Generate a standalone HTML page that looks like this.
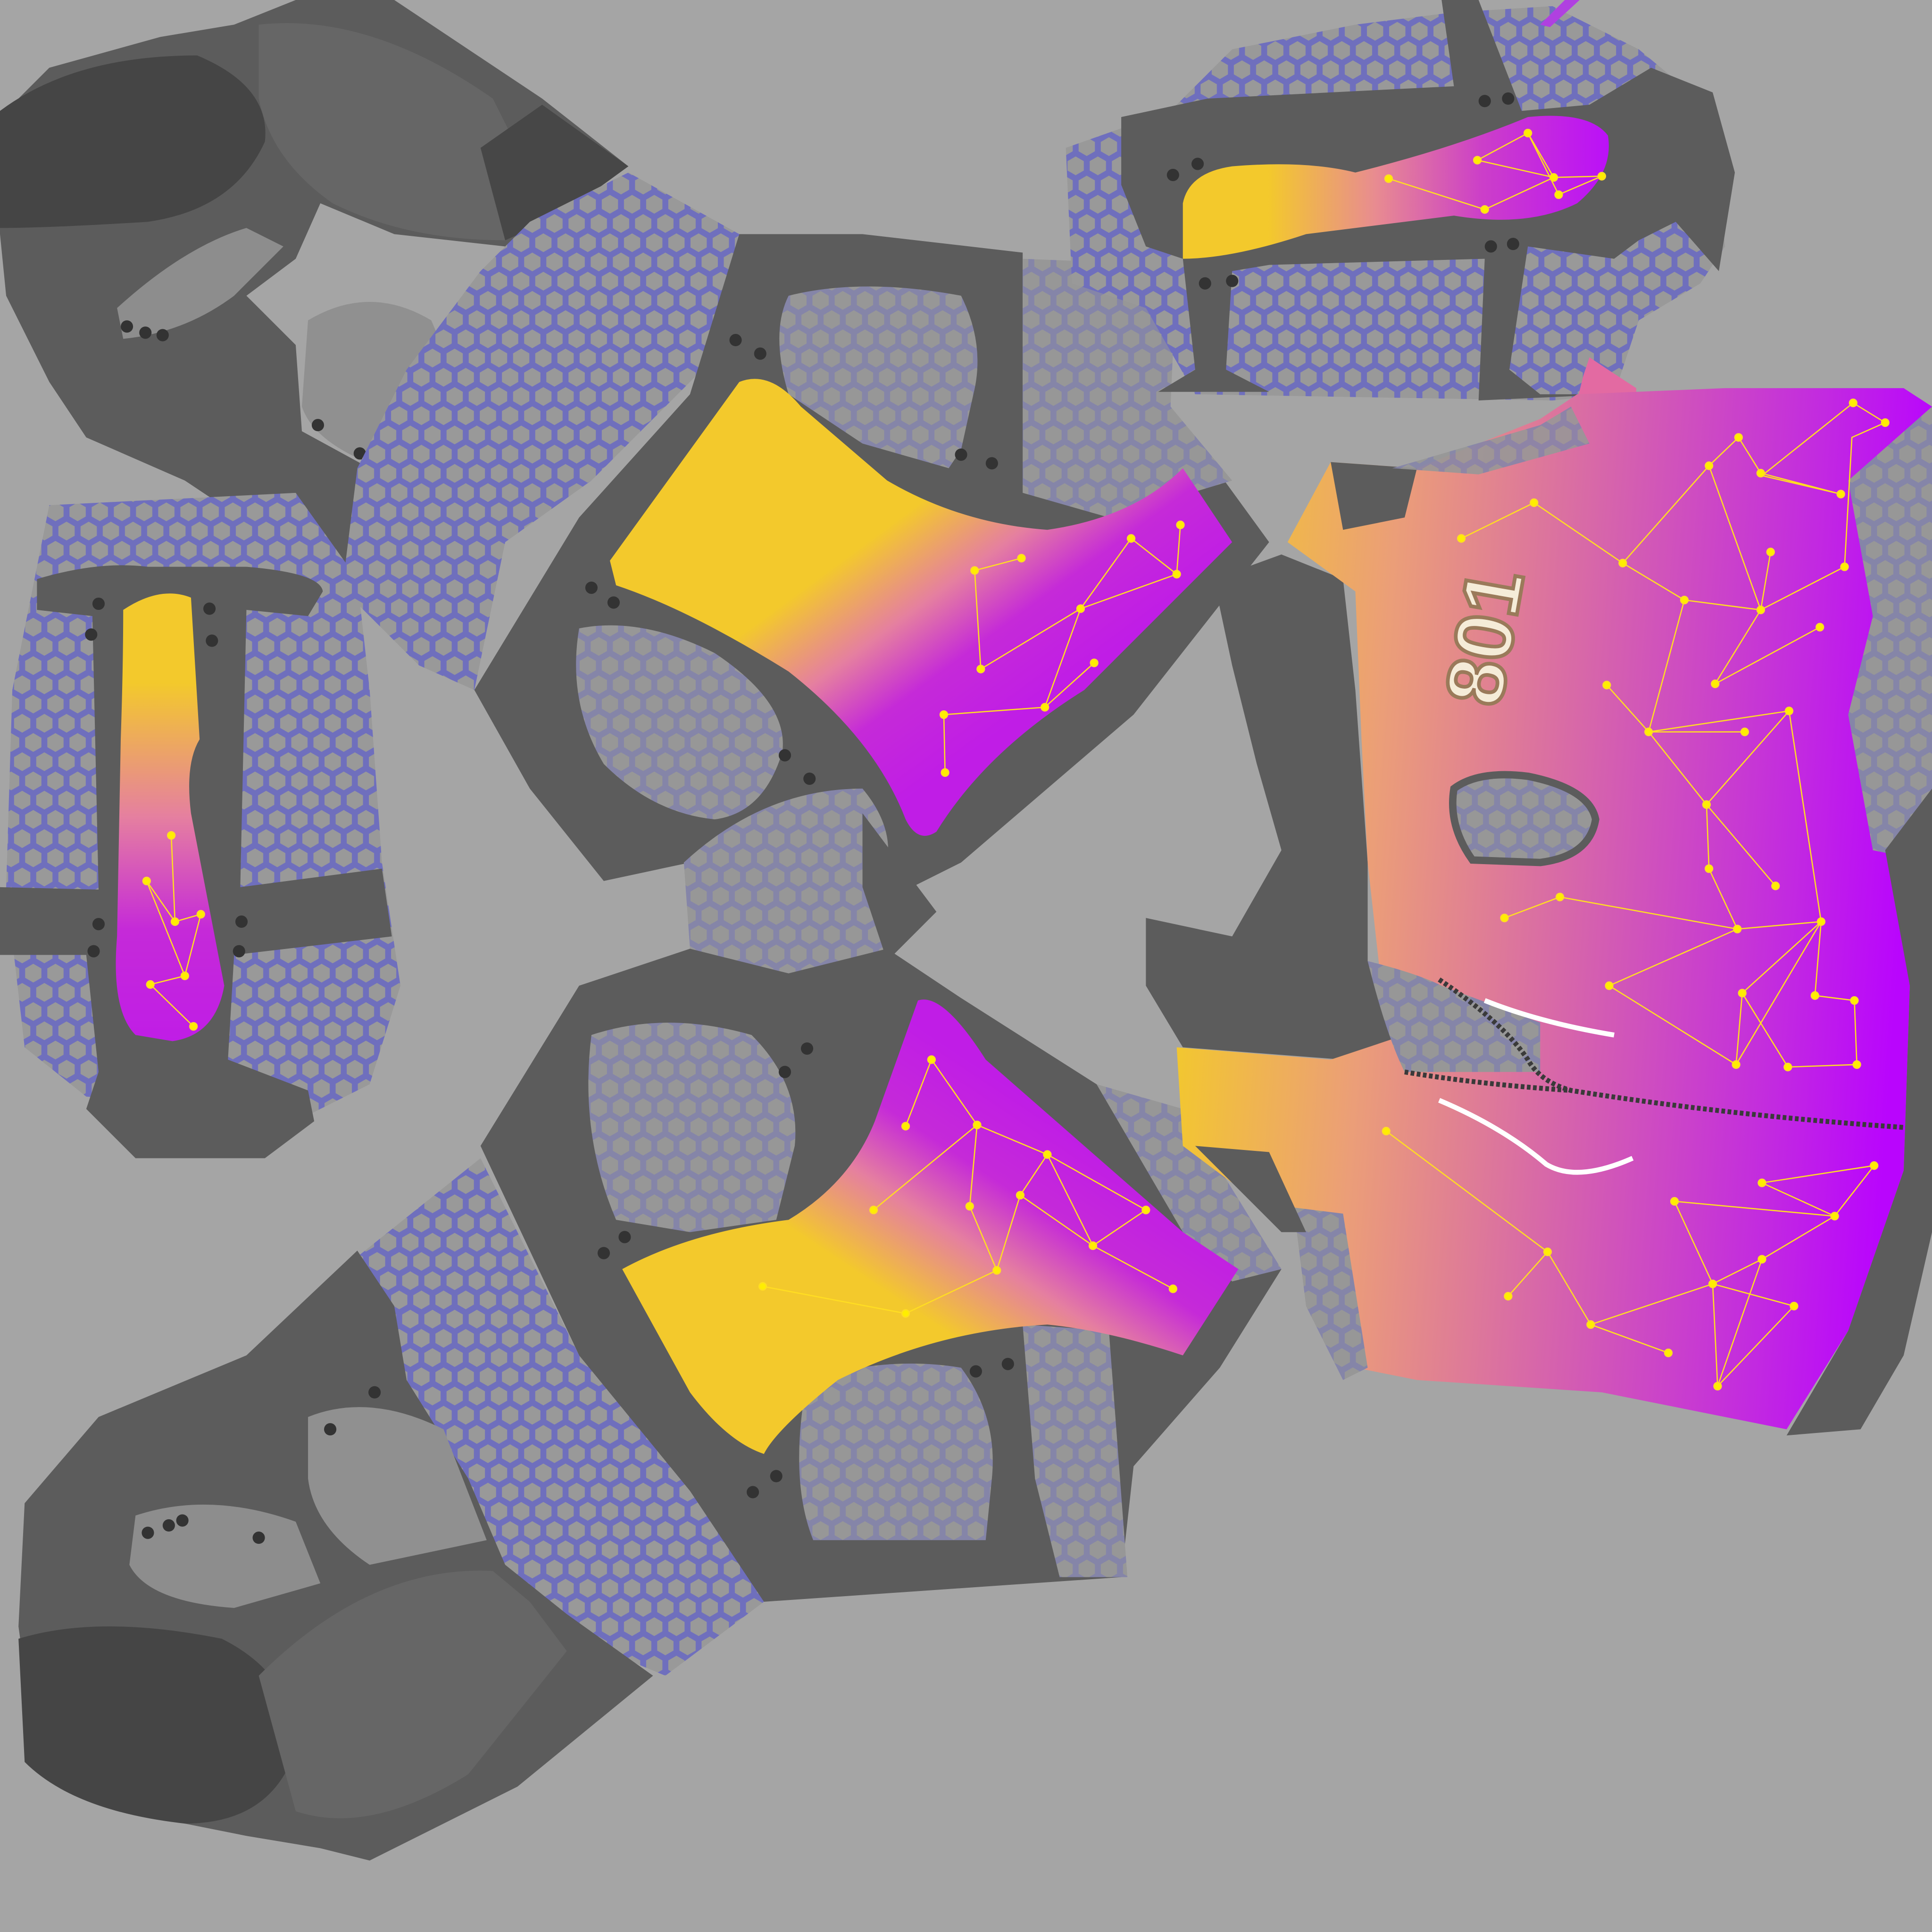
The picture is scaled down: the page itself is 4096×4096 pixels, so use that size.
<!DOCTYPE html>
<html><head><meta charset="utf-8"><style>
html,body{margin:0;padding:0;background:#a5a5a5}
svg{display:block}
</style></head><body>
<svg xmlns="http://www.w3.org/2000/svg" width="4096" height="4096" viewBox="0 0 1568 1568">
<defs>
<pattern id="hexB" width="18" height="31.2" patternUnits="userSpaceOnUse">
<rect width="18" height="31.2" fill="#6f6fbd"/>
<polygon points="9,2.2 15.6,6 15.6,13.6 9,17.4 2.4,13.6 2.4,6" fill="#999"/>
<polygon points="0,17.8 6.6,21.6 6.6,29.2 0,33 -6.6,29.2 -6.6,21.6" fill="#999"/>
<polygon points="18,17.8 24.6,21.6 24.6,29.2 18,33 11.4,29.2 11.4,21.6" fill="#999"/>
<polygon points="0,-13.4 6.6,-9.6 6.6,-2 0,1.8 -6.6,-2 -6.6,-9.6" fill="#999"/>
<polygon points="18,-13.4 24.6,-9.6 24.6,-2 18,1.8 11.4,-2 11.4,-9.6" fill="#999"/>
</pattern>
<pattern id="hexG" width="18" height="31.2" patternUnits="userSpaceOnUse">
<rect width="18" height="31.2" fill="#8585a8"/>
<polygon points="9,2.2 15.6,6 15.6,13.6 9,17.4 2.4,13.6 2.4,6" fill="#979797"/>
<polygon points="0,17.8 6.6,21.6 6.6,29.2 0,33 -6.6,29.2 -6.6,21.6" fill="#979797"/>
<polygon points="18,17.8 24.6,21.6 24.6,29.2 18,33 11.4,29.2 11.4,21.6" fill="#979797"/>
<polygon points="0,-13.4 6.6,-9.6 6.6,-2 0,1.8 -6.6,-2 -6.6,-9.6" fill="#979797"/>
<polygon points="18,-13.4 24.6,-9.6 24.6,-2 18,1.8 11.4,-2 11.4,-9.6" fill="#979797"/>
</pattern>
<linearGradient id="gTop" x1="0.3" y1="0.2" x2="0.75" y2="0.65"><stop offset="0.3" stop-color="#f3c92c"/><stop offset="0.55" stop-color="#e57fa0"/><stop offset="0.75" stop-color="#c52ad8"/><stop offset="1" stop-color="#c01de6"/></linearGradient>
<linearGradient id="gBot" x1="0.3" y1="0.8" x2="0.75" y2="0.3"><stop offset="0.3" stop-color="#f3c92c"/><stop offset="0.55" stop-color="#e57fa0"/><stop offset="0.75" stop-color="#c52ad8"/><stop offset="1" stop-color="#c01de6"/></linearGradient>
<linearGradient id="gV" x1="0" y1="0" x2="0" y2="1"><stop offset="0.2" stop-color="#f3c92c"/><stop offset="0.5" stop-color="#e57fa0"/><stop offset="0.75" stop-color="#c52ad8"/><stop offset="1" stop-color="#c01de6"/></linearGradient>
<linearGradient id="gH" x1="0" y1="0" x2="1" y2="0"><stop offset="0.2" stop-color="#f3c92c"/><stop offset="0.45" stop-color="#e88c90"/><stop offset="0.7" stop-color="#cc3fc8"/><stop offset="1" stop-color="#bb10f8"/></linearGradient>
<linearGradient id="gR" x1="0" y1="0" x2="1" y2="0.1"><stop offset="0.05" stop-color="#f3c92c"/><stop offset="0.3" stop-color="#eb9e78"/><stop offset="0.6" stop-color="#d45fb0"/><stop offset="0.85" stop-color="#c22ae0"/><stop offset="1" stop-color="#b905fd"/></linearGradient>
</defs>
<rect width="1568" height="1568" fill="#a5a5a5"/>

<g>
<polygon points="0,95 40,55 130,30 190,20 240,0 320,0 440,80 510,135 450,175 410,200 320,190 260,165 240,210 200,240 240,280 245,350 300,380 310,420 270,480 225,440 150,390 70,355 40,310 5,240 0,190" fill="#5c5c5c"/>
<path d="M0,90 Q60,45 160,45 Q220,70 215,115 Q190,170 120,180 Q40,185 0,185Z" fill="#454545"/>
<path d="M210,20 Q300,10 400,80 L430,140 L410,195 Q330,195 270,165 Q220,130 210,80Z" fill="#666"/>
<path d="M95,250 Q150,200 200,185 L230,200 L190,240 Q150,270 100,275Z" fill="#8d8d8d"/>
<path d="M250,260 Q300,230 350,260 L380,330 L310,380 Q255,360 245,330Z" fill="#909090"/>
<circle cx="103" cy="265" r="5" fill="#333"/><circle cx="118" cy="270" r="5" fill="#333"/><circle cx="132" cy="272" r="5" fill="#333"/>
<circle cx="258" cy="345" r="5" fill="#333"/><circle cx="292" cy="368" r="5" fill="#333"/>
<polygon points="390,120 440,85 510,135 455,175 410,195" fill="#474747"/>
</g>

<polygon points="290,380 330,300 390,220 430,180 510,140 600,190 610,260 540,330 480,390 410,440 385,560 340,540 290,490 280,460" fill="url(#hexB)"/>

<g>
<polygon points="40,410 240,400 290,470 300,560 310,700 325,800 300,880 250,905 70,890 20,850 5,720 10,560" fill="url(#hexB)"/>
<path d="M30,470 Q80,455 120,460 L200,460 Q260,465 262,480 L250,500 L200,495 L195,720 L310,705 L318,760 L190,775 L185,860 L250,885 L255,910 L215,940 L110,940 L70,900 L80,870 L70,775 L0,775 L0,720 L80,722 L75,500 L30,495Z" fill="#5c5c5c"/>
<path d="M100,495 Q130,475 155,485 L162,600 Q150,620 155,660 L182,800 Q175,840 140,845 L110,840 Q90,820 95,760 L98,600 Q100,540 100,495Z" fill="url(#gV)"/>
<circle cx="80" cy="490" r="5" fill="#333"/><circle cx="170" cy="494" r="5" fill="#333"/><circle cx="74" cy="515" r="5" fill="#333"/><circle cx="172" cy="520" r="5" fill="#333"/>
<circle cx="80" cy="750" r="5" fill="#333"/><circle cx="196" cy="748" r="5" fill="#333"/><circle cx="76" cy="772" r="5" fill="#333"/><circle cx="194" cy="772" r="5" fill="#333"/>
<g stroke="#ffdd22" stroke-width="1" fill="#ffee00">
<polyline points="139,678 142,748 163,742 150,792 122,799 157,833" fill="none"/><polyline points="119,715 142,748" fill="none"/><polyline points="119,715 150,792" fill="none"/>
<circle cx="139" cy="678" r="3"/><circle cx="142" cy="748" r="3"/><circle cx="163" cy="742" r="3"/><circle cx="150" cy="792" r="3"/><circle cx="122" cy="799" r="3"/><circle cx="157" cy="833" r="3"/><circle cx="119" cy="715" r="3"/>
</g>
</g>

<g>
<polygon points="385,560 470,420 560,320 600,190 700,190 830,205 830,330 950,330 1030,440 920,580 780,700 720,730 640,720 560,700 490,715 430,640" fill="#5c5c5c"/>
<path d="M640,240 Q700,225 780,240 Q800,280 790,320 L780,365 L770,380 L700,360 L640,320 Q625,270 640,240Z" fill="url(#hexG)"/>
<path d="M830,210 L955,215 L950,330 L1000,390 L900,420 L830,400Z" fill="url(#hexG)"/>
<path d="M470,510 Q520,500 580,530 Q640,570 635,610 Q620,660 580,665 Q530,660 490,620 Q460,570 470,510Z" fill="url(#hexG)"/>
<path d="M495,455 L600,310 Q625,300 650,330 L720,390 Q780,425 850,430 Q920,420 960,380 L1000,440 L880,560 Q800,610 760,675 Q745,685 735,665 Q710,600 640,545 Q560,495 500,475Z" fill="url(#gTop)"/>
<circle cx="597" cy="276" r="5" fill="#333"/><circle cx="617" cy="287" r="5" fill="#333"/><circle cx="480" cy="477" r="5" fill="#333"/><circle cx="498" cy="489" r="5" fill="#333"/>
<circle cx="637" cy="613" r="5" fill="#333"/><circle cx="657" cy="632" r="5" fill="#333"/><circle cx="780" cy="369" r="5" fill="#333"/><circle cx="805" cy="376" r="5" fill="#333"/>
<g stroke="#ffdd22" stroke-width="1" fill="#ffee00">
<polyline points="791,463 829,453 " fill="none"/><polyline points="791,463 796,543 877,494 918,437 955,466 958,426" fill="none"/><polyline points="877,494 848,574 766,580 767,627" fill="none"/><polyline points="877,494 955,466" fill="none"/><polyline points="848,574 888,538" fill="none"/>
<circle cx="791" cy="463" r="3"/><circle cx="829" cy="453" r="3"/><circle cx="796" cy="543" r="3"/><circle cx="877" cy="494" r="3"/><circle cx="918" cy="437" r="3"/><circle cx="955" cy="466" r="3"/><circle cx="958" cy="426" r="3"/><circle cx="848" cy="574" r="3"/><circle cx="766" cy="580" r="3"/><circle cx="767" cy="627" r="3"/><circle cx="888" cy="538" r="3"/>
</g>
</g>

<path d="M555,700 Q620,640 700,640 Q725,670 720,700 L740,745 L700,800 Q700,840 680,840 L600,810 L560,770Z" fill="url(#hexG)"/>
<polygon points="700,660 760,740 720,780 700,720" fill="#5c5c5c"/>

<g>
<polygon points="390,930 470,800 560,770 640,790 720,770 780,810 890,880 1040,1030 990,1110 920,1190 910,1280 620,1300 540,1210 470,1100" fill="#5c5c5c"/>
<path d="M480,840 Q540,820 610,840 Q650,880 645,930 L630,990 L560,1000 L500,990 Q470,920 480,840Z" fill="url(#hexG)"/>
<path d="M655,1120 Q720,1100 780,1110 Q810,1150 805,1200 L800,1250 L660,1250 Q640,1200 655,1120Z" fill="url(#hexG)"/>
<path d="M830,1075 L900,1080 L915,1280 L860,1280 L840,1200Z" fill="url(#hexG)"/>
<path d="M890,880 L960,900 L1040,1030 L1000,1040 L960,1000Z" fill="url(#hexG)"/>
<path d="M505,1030 Q560,1000 640,990 Q690,960 710,910 L745,812 Q765,805 800,860 L960,1000 L1005,1030 L960,1100 Q900,1080 850,1075 Q760,1080 680,1120 Q630,1160 620,1180 Q590,1170 560,1130Z" fill="url(#gBot)"/>
<circle cx="490" cy="1017" r="5" fill="#333"/><circle cx="507" cy="1004" r="5" fill="#333"/><circle cx="655" cy="851" r="5" fill="#333"/><circle cx="637" cy="870" r="5" fill="#333"/>
<circle cx="792" cy="1113" r="5" fill="#333"/><circle cx="818" cy="1107" r="5" fill="#333"/><circle cx="611" cy="1211" r="5" fill="#333"/><circle cx="630" cy="1198" r="5" fill="#333"/>
<g stroke="#ffdd22" stroke-width="1" fill="#ffee00">
<polyline points="619,1044 735,1066 809,1031 828,970 887,1011 952,1046" fill="none"/><polyline points="735,914 756,860 793,913 850,937 930,982 887,1011" fill="none"/><polyline points="709,982 793,913 787,979 809,1031" fill="none"/><polyline points="850,937 887,1011" fill="none"/><polyline points="828,970 850,937" fill="none"/>
<circle cx="619" cy="1044" r="3"/><circle cx="735" cy="1066" r="3"/><circle cx="809" cy="1031" r="3"/><circle cx="828" cy="970" r="3"/><circle cx="887" cy="1011" r="3"/><circle cx="952" cy="1046" r="3"/><circle cx="735" cy="914" r="3"/><circle cx="756" cy="860" r="3"/><circle cx="793" cy="913" r="3"/><circle cx="850" cy="937" r="3"/><circle cx="930" cy="982" r="3"/><circle cx="709" cy="982" r="3"/><circle cx="787" cy="979" r="3"/>
</g>
</g>

<polygon points="290,1020 390,940 470,1100 560,1210 620,1300 540,1360 420,1310 330,1120" fill="url(#hexB)"/>

<g>
<polygon points="15,1320 20,1220 80,1150 200,1100 290,1015 320,1060 330,1120 380,1200 410,1270 460,1310 530,1360 420,1450 300,1510 260,1500 200,1490 100,1470 30,1430" fill="#5c5c5c"/>
<path d="M15,1330 Q80,1310 180,1330 Q240,1360 240,1420 Q220,1480 150,1480 Q60,1470 20,1430Z" fill="#454545"/>
<path d="M210,1360 Q300,1270 400,1275 L430,1300 L460,1340 L380,1440 Q300,1490 240,1470Z" fill="#666"/>
<path d="M110,1230 Q170,1210 240,1235 L260,1285 L190,1305 Q120,1300 105,1270Z" fill="#8d8d8d"/>
<path d="M250,1150 Q300,1130 360,1160 L395,1250 L300,1270 Q255,1240 250,1200Z" fill="#909090"/>
<circle cx="120" cy="1244" r="5" fill="#333"/><circle cx="137" cy="1238" r="5" fill="#333"/><circle cx="148" cy="1234" r="5" fill="#333"/>
<circle cx="268" cy="1160" r="5" fill="#333"/><circle cx="304" cy="1130" r="5" fill="#333"/><circle cx="210" cy="1248" r="5" fill="#333"/>
</g>

<g>
<polygon points="865,120 950,90 1000,40 1100,20 1180,10 1260,5 1330,40 1390,90 1400,200 1380,230 1330,260 1310,320 1260,325 970,320 930,250 870,230" fill="url(#hexB)"/>
<path d="M910,95 L980,80 L1180,70 L1170,0 L1200,0 L1235,90 L1290,85 L1340,55 L1390,75 L1408,140 L1395,220 L1360,180 L1330,195 L1310,210 L1240,200 L1225,300 L1250,320 L1310,320 L1200,325 L1205,210 L1030,215 L1000,220 L995,300 L1030,318 L940,318 L970,300 L960,210 L930,200 L910,150Z" fill="#5c5c5c"/>
<path d="M960,165 Q965,140 1000,135 Q1060,130 1100,140 Q1180,120 1240,95 Q1290,90 1305,110 Q1310,140 1280,165 Q1240,185 1180,175 L1060,190 Q1000,210 960,210Z" fill="url(#gH)"/>
<circle cx="952" cy="142" r="5" fill="#333"/><circle cx="972" cy="133" r="5" fill="#333"/><circle cx="1205" cy="82" r="5" fill="#333"/><circle cx="1224" cy="80" r="5" fill="#333"/>
<circle cx="978" cy="230" r="5" fill="#333"/><circle cx="1000" cy="228" r="5" fill="#333"/><circle cx="1210" cy="200" r="5" fill="#333"/><circle cx="1228" cy="198" r="5" fill="#333"/>
<g stroke="#ffdd22" stroke-width="1" fill="#ffee00">
<polyline points="1127,145 1205,170 1261,144 1300,143 1265,158 1240,108 1199,130 1261,144" fill="none"/><polyline points="1240,108 1261,144" fill="none"/>
<circle cx="1127" cy="145" r="3"/><circle cx="1205" cy="170" r="3"/><circle cx="1261" cy="144" r="3"/><circle cx="1300" cy="143" r="3"/><circle cx="1265" cy="158" r="3"/><circle cx="1240" cy="108" r="3"/><circle cx="1199" cy="130" r="3"/>
</g>
<polygon points="1250,20 1270,0 1282,0 1258,22" fill="#b040e0"/>
<polygon points="1290,290 1305,300 1328,315 1328,325 1280,325 1285,305" fill="#e36aa2"/>
</g>

<g>
<polygon points="1000,760 930,745 930,800 960,850 1090,860 1140,845 1110,780 1110,700 1100,560 1090,470 1040,450 985,470 1000,540 1020,620 1040,690" fill="#5c5c5c"/>
<polygon points="1045,440 1080,375 1150,380 1250,340 1280,320 1400,315 1545,315 1568,330 1568,700 1550,800 1545,950 1500,1080 1450,1160 1300,1130 1150,1120 1100,1110 1060,1000 1000,960 960,930 955,850 1080,860 1140,840 1120,790 1110,700 1105,600 1100,480" fill="url(#gR)"/>
<polygon points="1080,375 1150,380 1140,420 1090,430" fill="#5c5c5c"/>
<polygon points="1130,380 1250,345 1275,330 1290,360 1200,385" fill="url(#hexG)" opacity="0.9"/>
<polygon points="1500,390 1568,330 1568,700 1520,690 1500,580 1520,500" fill="url(#hexG)"/>
<polygon points="1530,690 1568,640 1568,1000 1545,1100 1510,1160 1450,1165 1500,1080 1545,950 1550,800" fill="#5c5c5c"/>
<polygon points="1050,980 1090,985 1110,1110 1090,1120 1060,1060" fill="url(#hexG)"/>
<polygon points="970,930 1030,935 1060,1000 1040,1000" fill="#5c5c5c"/>
<path d="M1180,640 Q1200,625 1240,630 Q1290,640 1295,665 Q1290,695 1250,700 L1195,698 Q1175,670 1180,640Z" fill="url(#hexG)" stroke="#5c5c5c" stroke-width="6"/>
<path d="M1110,780 Q1150,790 1170,800 L1250,830 L1250,870 L1140,870 Q1125,840 1110,780Z" fill="url(#hexG)"/>
<text x="0" y="0" transform="translate(1210,518) rotate(-80)" font-family="Liberation Sans, sans-serif" font-weight="bold" font-size="66" fill="#f5ecd8" stroke="#9a7a5a" stroke-width="3" text-anchor="middle" dominant-baseline="middle">801</text>
<g stroke="#ffdd22" stroke-width="1" fill="#ffee00">
<polyline points="1186,437 1245,408 1317,457 1387,378 1411,355 1429,384 1494,401 1430,386 1504,327 1530,343 1503,355 1497,460 1429,495 1367,487 1317,457" fill="none"/>
<polyline points="1387,378 1429,495 1437,448 1429,495 1392,555 1477,509" fill="none"/>
<polyline points="1304,556 1338,594 1416,594 1338,594 1367,487 1338,594 1452,577 1385,653 1338,594" fill="none"/>
<polyline points="1385,653 1441,719 1385,653 1387,705 1410,754 1478,748 1473,808 1505,812 1507,864 1451,866 1414,806 1478,748 1409,864 1414,806" fill="none"/>
<polyline points="1221,745 1266,728 1410,754 1306,800 1409,864" fill="none"/>
<polyline points="1452,577 1478,748" fill="none"/>
<polyline points="1125,918 1256,1016 1224,1052 1256,1016 1291,1075 1354,1098 1291,1075 1390,1042 1430,1022 1390,1042 1359,975 1489,987 1430,960 1521,946 1489,987 1430,1022 1394,1125 1456,1060 1390,1042 1394,1125" fill="none"/>
<circle cx="1186" cy="437" r="3"/><circle cx="1245" cy="408" r="3"/><circle cx="1317" cy="457" r="3"/><circle cx="1387" cy="378" r="3"/><circle cx="1411" cy="355" r="3"/><circle cx="1429" cy="384" r="3"/><circle cx="1494" cy="401" r="3"/><circle cx="1504" cy="327" r="3"/><circle cx="1530" cy="343" r="3"/><circle cx="1497" cy="460" r="3"/><circle cx="1429" cy="495" r="3"/><circle cx="1367" cy="487" r="3"/><circle cx="1437" cy="448" r="3"/><circle cx="1392" cy="555" r="3"/><circle cx="1477" cy="509" r="3"/>
<circle cx="1304" cy="556" r="3"/><circle cx="1338" cy="594" r="3"/><circle cx="1416" cy="594" r="3"/><circle cx="1452" cy="577" r="3"/><circle cx="1385" cy="653" r="3"/><circle cx="1441" cy="719" r="3"/><circle cx="1387" cy="705" r="3"/><circle cx="1410" cy="754" r="3"/><circle cx="1478" cy="748" r="3"/><circle cx="1473" cy="808" r="3"/><circle cx="1505" cy="812" r="3"/><circle cx="1507" cy="864" r="3"/><circle cx="1451" cy="866" r="3"/><circle cx="1414" cy="806" r="3"/><circle cx="1409" cy="864" r="3"/><circle cx="1221" cy="745" r="3"/><circle cx="1266" cy="728" r="3"/><circle cx="1306" cy="800" r="3"/>
<circle cx="1125" cy="918" r="3"/><circle cx="1256" cy="1016" r="3"/><circle cx="1224" cy="1052" r="3"/><circle cx="1291" cy="1075" r="3"/><circle cx="1354" cy="1098" r="3"/><circle cx="1390" cy="1042" r="3"/><circle cx="1430" cy="1022" r="3"/><circle cx="1359" cy="975" r="3"/><circle cx="1489" cy="987" r="3"/><circle cx="1430" cy="960" r="3"/><circle cx="1521" cy="946" r="3"/><circle cx="1394" cy="1125" r="3"/><circle cx="1456" cy="1060" r="3"/>
</g>
<path d="M1168,795 Q1220,830 1240,860 Q1250,878 1275,885 Q1400,905 1545,915 M1140,870 Q1200,880 1275,885" fill="none" stroke="#3a3a3a" stroke-width="4" stroke-dasharray="3,2"/>
<path d="M1205,812 Q1250,830 1310,840" fill="none" stroke="#fff" stroke-width="4"/>
<path d="M1168,893 Q1220,915 1255,945 Q1280,960 1325,940" fill="none" stroke="#fff" stroke-width="4"/>
</g>
</svg>
</body></html>
